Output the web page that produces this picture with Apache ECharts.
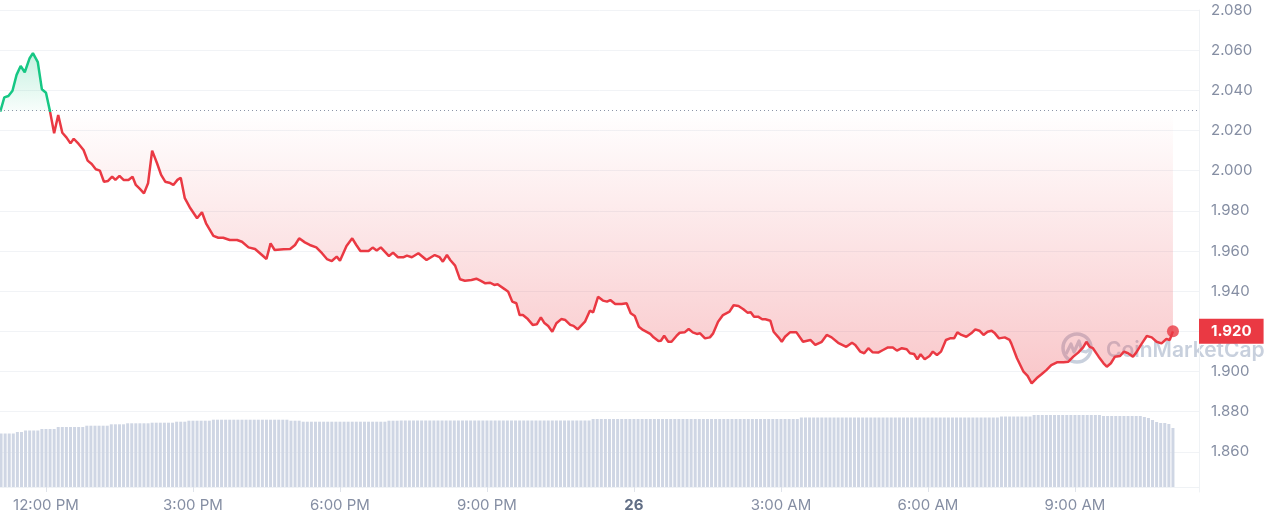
<!DOCTYPE html>
<html>
<head>
<meta charset="utf-8">
<script src="https://cdn.jsdelivr.net/npm/echarts@6/dist/echarts.min.js"></script>
<style>
html,body{margin:0;padding:0;background:#fff;}
#chart{width:1265px;height:522px;}
</style>
</head>
<body>
<div id="chart"></div>
<script>
// ---- DATA ----
// time of each price reading, minutes after 00:00 of the 25th (values > 1440 are on the 26th)
const priceTimes = [
  664,669,674,679,684,689,694,700,704,710,715,720,725,730,735,740,745,750,754,760,766,771,776,781,786,791,796,801,805,810,815,821,826,830,835,840,845,850,856,861,866,871,876,881,885,890,
  896,905,911,916,925,931,937,945,954,960,968,976,982,990,995,1000,1011,1019,1025,1030,1037,1043,1051,1058,1064,1070,1076,1080,1088,1095,1100,1105,1115,1120,1125,1130,1140,1145,1151,
  1158,1162,1168,1176,1186,1196,1202,1206,1211,1215,1221,1227,1233,1241,1247,1252,1258,1264,1269,1273,1282,1286,1291,1296,1300,1304,1310,1316,1321,1326,1330,1335,1340,1345,1351,1356,1362,1366,1371,1380,1386,1390,1396,1402,1407,1411,
  1417,1425,1431,1436,1441,1446,1451,1460,1464,1470,1473,1477,1482,1486,1492,1496,1502,1507,1512,1517,1521,1527,1533,1537,1543,1549,1557,1562,1568,1574,1579,1583,1587,1592,1597,1601,1607,1611,1617,1621,1625,1631,1639,1647,1656,1662,1670,1676,1682,1690,1700,1707,1711,1717,1722,1727,1732,1739,1745,1751,1757,1762,1768,1774,1778,1783,1787,1791,1796,1802,1806,1811,1816,1822,1827,1832,1836,1841,1847,1853,1858,1863,1868,1873,1878,1882,1887,1894,1900,
  1902,1909,1917,1922,1927,1933,1939,1945,1951,1958,1966,1972,1978,1984,1990,1994,1998,2002,2009,2015,2019,2024,2029,2035,2040,2045,2051,2055,2062,2068,2074,2080,2086,2092,2096,2100
];
const prices = [
  2.0294,2.0365,2.0372,2.0398,2.0477,2.0521,2.0490,2.0560,2.0585,2.0540,2.0405,2.0388,2.0294,2.0186,2.0277,2.0189,2.0166,2.0136,2.0159,2.0133,2.0103,2.0050,2.0033,2.0007,2.0000,1.9945,1.9949,1.9970,1.9954,1.9974,1.9954,1.9954,1.9970,1.9929,1.9909,1.9887,1.9937,2.0100,2.0037,1.9979,1.9945,1.9940,1.9929,1.9954,1.9965,1.9863,
  1.9818,1.9763,1.9793,1.9738,1.9675,1.9666,1.9666,1.9655,1.9655,1.9646,1.9618,1.9610,1.9589,1.9560,1.9638,1.9605,1.9609,1.9610,1.9630,1.9663,1.9643,1.9630,1.9618,1.9589,1.9560,1.9550,1.9572,1.9552,1.9625,1.9663,1.9630,1.9600,1.9600,1.9617,1.9602,1.9618,1.9575,1.9592,1.9569,
  1.9569,1.9577,1.9569,1.9589,1.9555,1.9580,1.9569,1.9547,1.9580,1.9555,1.9527,1.9459,1.9452,1.9456,1.9462,1.9452,1.9439,1.9442,1.9431,1.9434,1.9409,1.9397,1.9348,1.9340,1.9281,1.9281,1.9261,1.9232,1.9235,1.9270,1.9243,1.9227,1.9198,1.9240,1.9261,1.9256,1.9232,1.9227,1.9210,1.9248,1.9303,1.9295,1.9372,1.9353,1.9348,1.9356,
  1.9336,1.9336,1.9340,1.9290,1.9276,1.9223,1.9207,1.9187,1.9170,1.9152,1.9153,1.9178,1.9148,1.9148,1.9177,1.9193,1.9195,1.9212,1.9195,1.9187,1.9190,1.9165,1.9170,1.9190,1.9248,1.9281,1.9298,1.9330,1.9326,1.9310,1.9293,1.9295,1.9273,1.9273,1.9260,1.9260,1.9253,1.9198,1.9170,1.9148,1.9173,1.9195,1.9195,1.9148,1.9157,1.9132,1.9148,1.9182,1.9170,1.9143,1.9123,1.9143,1.9132,1.9099,1.9091,1.9116,1.9096,1.9094,1.9107,1.9120,1.9120,1.9104,1.9116,1.9111,1.9091,1.9087,1.9061,1.9086,1.9061,1.9077,1.9099,1.9082,1.9099,1.9157,1.9165,1.9165,1.9195,1.9182,1.9173,1.9190,1.9210,1.9203,1.9182,1.9198,1.9203,1.9190,1.9165,1.9170,1.9157,
  1.9140,1.9066,1.8999,1.8978,1.8941,1.8966,1.8986,1.9007,1.9032,1.9046,1.9046,1.9049,1.9074,1.9094,1.9120,1.9148,1.9123,1.9116,1.9074,1.9041,1.9024,1.9041,1.9074,1.9077,1.9099,1.9091,1.9074,1.9094,1.9140,1.9177,1.9170,1.9148,1.9140,1.9162,1.9157,1.9200
];
// opening price (dotted reference line)
const openPrice = 2.0293;

// volume bars, one per 5 minutes starting 11:05 (relative units)
const volumeStart = 665;
const volumeStep = 5;
const volumes = [
  535,535,535,535,550,550,565,565,565,565,
  580,580,580,580,600,600,600,600,600,600,
  600,613,613,613,613,613,613,627,627,627,
  627,637,637,637,637,637,637,643,643,643,
  643,643,643,653,653,653,663,663,663,663,
  663,663,673,673,673,673,673,673,673,673,
  673,673,673,673,673,673,673,673,673,673,
  673,663,663,663,653,653,653,653,653,653,
  653,653,653,653,653,653,653,653,653,653,
  653,653,653,653,653,663,663,663,665,665,
  665,665,665,665,665,665,665,665,665,665,
  665,665,665,665,665,665,665,665,665,665,
  665,665,665,665,665,665,665,665,665,665,
  665,665,665,665,665,665,665,665,665,665,
  665,665,665,665,665,680,680,680,680,680,
  680,680,680,680,680,680,680,680,680,680,
  680,680,680,680,680,680,680,680,680,680,
  680,680,680,680,680,680,680,680,680,680,
  680,680,680,680,680,680,680,680,680,680,
  680,680,680,680,680,680,695,695,695,695,
  695,695,695,695,695,695,695,695,695,695,
  695,695,695,695,695,695,695,695,695,695,
  695,695,695,695,695,695,695,695,695,695,
  695,695,695,695,695,695,695,695,695,695,
  695,695,695,695,695,705,705,705,705,705,
  705,705,705,720,720,720,720,720,720,720,
  720,720,720,720,720,720,720,720,720,720,
  710,710,710,710,710,710,710,710,710,710,
  700,690,670,650,640,640,630,590
];

// x axis ticks (minutes) and their labels
const xTickValues = [720, 900, 1080, 1260, 1440, 1620, 1800, 1980];
const xTickLabels = ['12:00 PM', '3:00 PM', '6:00 PM', '9:00 PM', '26', '3:00 AM', '6:00 AM', '9:00 AM'];

// y axis
const yMin = 1.84, yMax = 2.08, yStep = 0.02;

// ---- CHART ----
const X_MIN = 663.7, X_MAX = 2131.9;
const FONT = 'Inter, "Noto Sans", sans-serif';
const lastIdx = prices.length - 1;

const chart = echarts.init(document.getElementById('chart'), null, {renderer: 'canvas'});

const areaGradient = new echarts.graphic.LinearGradient(0, 50, 0, 400, [
  {offset: 0, color: 'rgba(22,199,132,0.26)'},
  {offset: 0.174, color: 'rgba(22,199,132,0.03)'},
  {offset: 0.175, color: 'rgba(234,57,67,0.0)'},
  {offset: 1, color: 'rgba(234,57,67,0.30)'}
], true);

const option = {
  animation: false,
  backgroundColor: '#ffffff',
  textStyle: {fontFamily: FONT},
  grid: [
    {left: 0, right: 66, top: 10, bottom: 30},
    {left: 0, right: 66, top: 387, bottom: 35}
  ],
  xAxis: [
    {gridIndex: 0, type: 'value', min: X_MIN, max: X_MAX, show: false},
    {
      gridIndex: 1, type: 'value', min: X_MIN, max: X_MAX,
      axisLine: {show: true, lineStyle: {color: '#eff2f5', width: 1}},
      axisTick: {show: true, customValues: xTickValues, length: 5, lineStyle: {color: '#dfe3ea'}},
      splitLine: {show: false},
      axisLabel: {
        customValues: xTickValues,
        margin: 11,
        color: '#858ea3',
        fontSize: 15,
        fontFamily: FONT,
        formatter: function (v) {
          const i = xTickValues.indexOf(v);
          if (i < 0) return '';
          const t = xTickLabels[i];
          return t === '26' ? '{b|' + t + '}' : t;
        },
        rich: {b: {fontWeight: 'bold', color: '#616e85', fontSize: 15, fontFamily: FONT}}
      }
    }
  ],
  yAxis: [
    {
      gridIndex: 0, type: 'value', position: 'right',
      min: yMin, max: yMax, interval: yStep,
      axisLine: {show: true, lineStyle: {color: '#eff2f5'}},
      axisTick: {show: false},
      splitLine: {show: true, showMinLine: false, lineStyle: {color: '#f1f3f6', width: 1}},
      axisLabel: {
        showMinLabel: false,
        margin: 12,
        color: '#858ea3',
        fontSize: 15,
        fontFamily: FONT,
        formatter: v => v.toFixed(3)
      }
    },
    {gridIndex: 1, type: 'value', min: 0, max: 1000, show: false}
  ],
  visualMap: {
    show: false,
    type: 'piecewise',
    seriesIndex: 0,
    dimension: 1,
    pieces: [
      {gt: openPrice, lte: 10, color: '#16c784'},
      {gt: 0, lte: openPrice, color: '#ea3943'}
    ]
  },
  graphic: [
    {
      type: 'group', z: 1, silent: true,
      children: [
        {type: 'circle', shape: {cx: 1077, cy: 348, r: 14}, style: {fill: 'none', stroke: '#c8d0dd', lineWidth: 3.5}},
        {type: 'polyline', shape: {points: [[1066, 354], [1071, 344], [1074, 352], [1079, 341], [1082, 351], [1086, 352], [1090, 349]]}, style: {fill: 'none', stroke: '#c8d0dd', lineWidth: 3.2, lineJoin: 'round'}},
        {type: 'text', x: 1106, y: 351, style: {text: 'CoinMarketCap', fill: '#c8d0dd', font: '600 21px Inter, "Noto Sans", sans-serif', verticalAlign: 'middle', textAlign: 'left'}}
      ]
    }
  ],
  series: [
    {
      type: 'line',
      xAxisIndex: 0, yAxisIndex: 0,
      data: priceTimes.map((t, i) => [t, prices[i]]),
      showSymbol: false,
      symbol: 'none',
      lineStyle: {width: 2.5},
      areaStyle: {origin: openPrice, color: areaGradient, opacity: 1},
      z: 3,
      markLine: {
        silent: true,
        symbol: 'none',
        animation: false,
        data: [
          {yAxis: openPrice, lineStyle: {type: [1, 3], color: '#8c95a8', width: 1}, label: {show: false}},
          {
            yAxis: prices[lastIdx],
            lineStyle: {color: 'rgba(0,0,0,0)', width: 0},
            label: {
              show: true, position: 'end', distance: 0,
              formatter: () => prices[lastIdx].toFixed(3),
              backgroundColor: '#ea3943', color: '#ffffff',
              fontWeight: 'bold', fontSize: 15, fontFamily: FONT,
              padding: [5, 12, 5, 12]
            }
          }
        ]
      }
    },
    {
      type: 'scatter',
      xAxisIndex: 0, yAxisIndex: 0,
      data: [[priceTimes[lastIdx], prices[lastIdx]]],
      symbolSize: 12,
      itemStyle: {color: '#ea3943'},
      z: 5,
      silent: true
    },
    {
      type: 'bar',
      xAxisIndex: 1, yAxisIndex: 1,
      data: volumes.map((v, i) => [volumeStart + volumeStep * i, v]),
      barWidth: 3,
      itemStyle: {color: '#cfd6e4'},
      silent: true,
      z: 1
    }
  ]
};

chart.setOption(option);
</script>
</body>
</html>
